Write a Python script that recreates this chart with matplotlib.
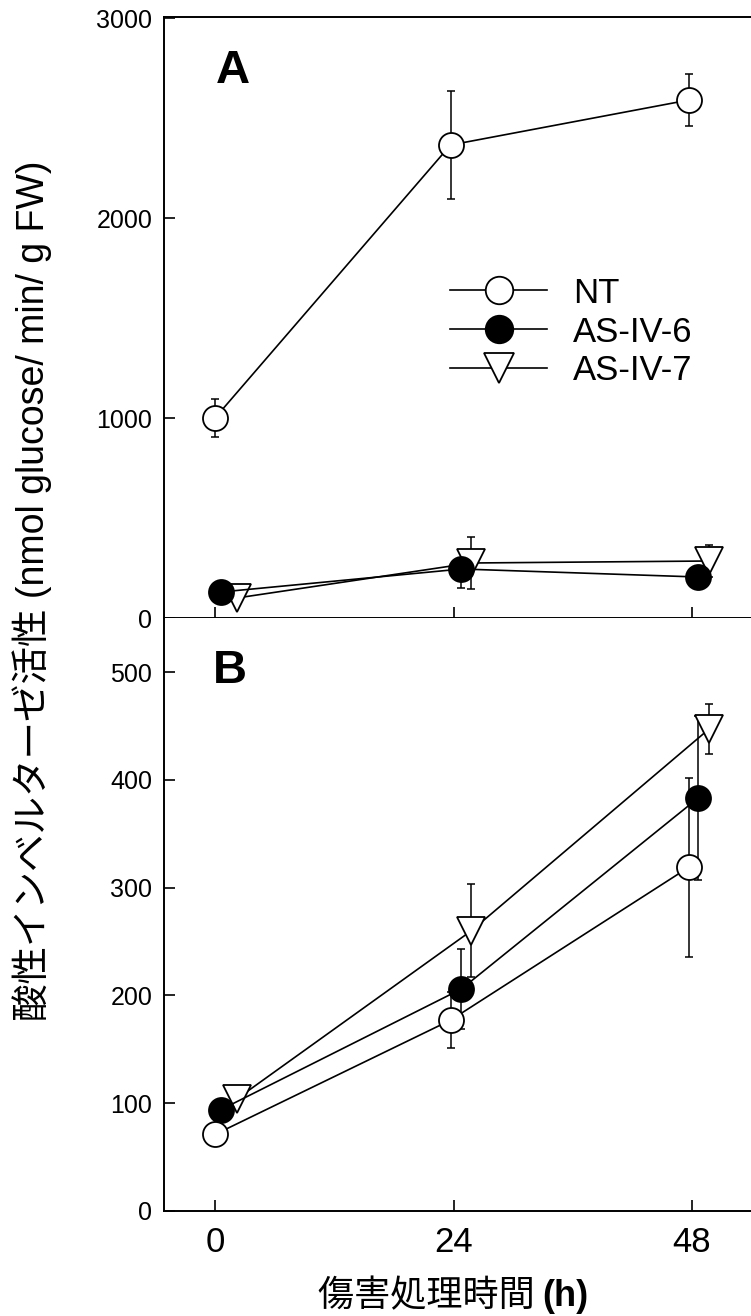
import matplotlib
matplotlib.use("Agg")
import matplotlib.pyplot as plt

# 傷害処理時間 (h) — 系列ごとに少しずらして描かれている
hours = [0, 24, 48]
x_nt = [0.0, 23.7, 47.7]
x_as6 = [0.6, 24.8, 48.6]
x_as7 = [2.2, 25.8, 49.7]

# A: 3000 スケール
a_nt = [1000, 2365, 2590]
a_nt_err = [95, 270, 130]
a_as6 = [130, 245, 205]
a_as6_err = [20, 95, 20]
a_as7 = [100, 275, 285]
a_as7_err = [15, 130, 80]

# B: 500 スケール
b_nt = [71, 177, 319]
b_nt_err = [5, 26, 83]
b_as6 = [94, 206, 383]
b_as6_err = [5, 37, 76]
b_as7 = [104, 260, 447]
b_as7_err = [5, 43, 23]

labels = ["NT", "AS-IV-6", "AS-IV-7"]
a_yticks = [0, 1000, 2000, 3000]
b_yticks = [0, 100, 200, 300, 400, 500]

W, H = 751, 1316


def fx(px):
    return px / W


def fy(py):
    return 1 - py / H


STYLE = {
    "NT": dict(marker="o", ms=18, mfc="white", mec="black", mew=1.3),
    "AS-IV-6": dict(marker="o", ms=18, mfc="black", mec="black", mew=1.3),
    "AS-IV-7": dict(marker="v", ms=20, mfc="white", mec="black", mew=1.3),
}

fig = plt.figure(figsize=(W / 100, H / 100), dpi=100, facecolor="white")

x_lo = (164 - 215) / 238.5 * 24
x_hi = (752 - 215) / 238.5 * 24

ax_a = fig.add_axes([fx(164), fy(618), fx(752) - fx(164), fy(17) - fy(618)])
ax_b = fig.add_axes([fx(164), fy(1211), fx(752) - fx(164), fy(618) - fy(1211)])


def draw(ax, xs, ys, errs):
    # 系列は NT を最後に描いて上に重ねる
    for name in ["AS-IV-7", "AS-IV-6", "NT"]:
        i = labels.index(name)
        ax.errorbar(xs[i], ys[i], yerr=errs[i], fmt="none", ecolor="black",
                    elinewidth=1.1, capsize=3, capthick=1.1, zorder=2)
        ax.plot(xs[i], ys[i], color="black", lw=1.2, label=name, zorder=3,
                **STYLE[name])


xs = [x_nt, x_as6, x_as7]
draw(ax_a, xs, [a_nt, a_as6, a_as7], [a_nt_err, a_as6_err, a_as7_err])
draw(ax_b, xs, [b_nt, b_as6, b_as7], [b_nt_err, b_as6_err, b_as7_err])

for ax in (ax_a, ax_b):
    ax.set_xlim(x_lo, x_hi)
    ax.set_xticks(hours)
    ax.spines["right"].set_visible(False)
    for s in ("left", "bottom", "top"):
        ax.spines[s].set_linewidth(1.4)
    ax.tick_params(direction="in", length=8, width=1.2, top=False,
                   right=False)
    ax.tick_params(axis="y", pad=8.5, labelsize=18)
    for t in ax.get_yticklabels():
        t.set_family("Liberation Sans")

ax_a.set_ylim(0, (618 - 17) * 5)
ax_a.set_yticks(a_yticks)
ax_a.tick_params(axis="x", labelbottom=False)

ax_b.set_ylim(0, (1211 - 618) / 1.078)
ax_b.set_yticks(b_yticks)
ax_b.spines["top"].set_visible(False)
ax_b.tick_params(axis="x", pad=11, labelsize=25)
for t in ax_b.get_xticklabels():
    t.set_family(["Liberation Sans Narrow", "Liberation Sans"])

# パネル記号
fig.text(fx(233), fy(83), "A", ha="center", va="baseline", fontsize=34,
         fontweight="bold", family="Liberation Sans")
fig.text(fx(230), fy(683), "B", ha="center", va="baseline", fontsize=34,
         fontweight="bold", family="Liberation Sans")

# 凡例
handles, lbls = ax_a.get_legend_handles_labels()
order = [lbls.index(n) for n in labels]
ax_a.legend([handles[i] for i in order], [lbls[i] for i in order],
            loc="center left", bbox_to_anchor=(fx(450), fy(332)),
            bbox_transform=fig.transFigure, frameon=False, borderpad=0,
            borderaxespad=0, handlelength=2.8, handletextpad=0.75,
            labelspacing=0.17, markerscale=1.1,
            prop={"family": "Liberation Sans", "size": 25})

# 軸ラベル
fig.text(fx(32), fy(591), "酸性インベルターゼ活性 (nmol glucose/ min/ g FW)",
         rotation=90, ha="center", va="center", fontsize=27,
         family=["Liberation Sans", "Noto Sans CJK JP"])

renderer = fig.canvas.get_renderer()
t1 = fig.text(0, fy(1296), "傷害処理時間 ", ha="left", va="center",
              fontsize=26, family=["Noto Sans CJK JP", "DejaVu Sans"])
t2 = fig.text(0, fy(1296), "(h)", ha="left", va="center", fontsize=26,
              fontweight="bold", family="Liberation Sans")
w1 = t1.get_window_extent(renderer).width
w2 = t2.get_window_extent(renderer).width
x0 = 453 - (w1 + w2) / 2
t1.set_x(fx(x0))
t2.set_x(fx(x0 + w1))

fig.savefig("out.png", dpi=100, facecolor="white")
